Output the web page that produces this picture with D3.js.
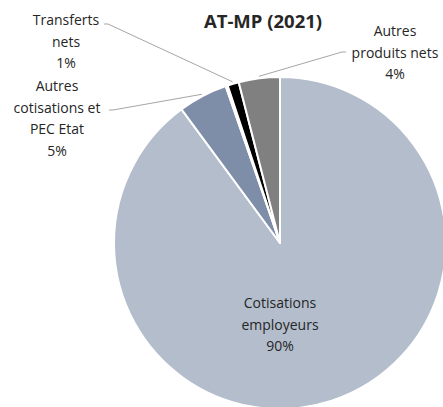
<!DOCTYPE html>
<html>
<head>
<meta charset="utf-8">
<script src="https://cdn.jsdelivr.net/npm/d3@7"></script>
<style>
  body { margin: 0; background: #fff; }
  text { font-family: "Open Sans", sans-serif; fill: #262626; }
</style>
</head>
<body>
<svg class="pie-chart"></svg>
<script>
var width = 443
var height = 407

// data
var categories = ["Cotisations employeurs", "Autres cotisations et PEC Etat", "Autres", "Transferts nets", "Autres produits nets"]
var shares = [89.9, 4.8, 0.2, 1.1, 4.0]
var pctLabels = ["90%", "5%", "", "1%", "4%"]
var colors = ["#b3bdcc", "#7f8ea8", "#f2a541", "#000000", "#808080"]

// label layout: lines of text, centre x, first line y, leader start
var labelLayout = [
  {lines: ["Cotisations", "employeurs"], x: 280, y: 308},
  {lines: ["Autres", "cotisations et", "PEC Etat"], x: 57, y: 91, lead: [109, 110]},
  null,
  {lines: ["Transferts", "nets"], x: 66, y: 25, lead: [104, 24]},
  {lines: ["Autres", "produits nets"], x: 395, y: 36, lead: [346, 52]}
]

var cx = 280, cy = 243, radius = 166

var svg = d3.select(".pie-chart")
    .attr("width", width)
    .attr("height", height)

var pie = d3.pie().sort(null).value(function(d) { return d })
var arc = d3.arc().innerRadius(0).outerRadius(radius)
var arcs = pie(shares)

var g = svg.append("g")
    .attr("transform", `translate(${cx},${cy})`)

g.selectAll("path")
    .data(arcs)
  .enter().append("path")
    .attr("d", arc)
    .attr("fill", function(d, i) { return colors[i] })
    .attr("stroke", "#fff")
    .attr("stroke-width", 2)
    .attr("stroke-linejoin", "round")

svg.append("text")
    .attr("x", 263)
    .attr("y", 28)
    .attr("text-anchor", "middle")
    .attr("font-weight", "bold")
    .attr("font-size", 18.5)
    .text("AT-MP (2021)")

var lineH = 21.7

labelLayout.forEach(function(lab, i) {
  if (!lab) return
  var lines = lab.lines.concat([pctLabels[i]])
  var t = svg.append("text")
      .attr("text-anchor", "middle")
      .attr("font-size", 14)
  lines.forEach(function(s, k) {
    t.append("tspan")
        .attr("x", lab.x)
        .attr("y", lab.y + k * lineH)
        .text(s)
  })
  if (lab.lead) {
    var a = (arcs[i].startAngle + arcs[i].endAngle) / 2
    var r = radius + 2
    var end = [cx + r * Math.sin(a), cy - r * Math.cos(a)]
    var dir = end[0] > lab.lead[0] ? 1 : -1
    svg.append("polyline")
        .attr("points", [lab.lead, [lab.lead[0] + dir * 4, lab.lead[1]], end].map(function(p) { return p.join(",") }).join(" "))
        .attr("fill", "none")
        .attr("stroke", "#a6a6a6")
        .attr("stroke-width", 1)
  }
})
</script>
</body>
</html>
